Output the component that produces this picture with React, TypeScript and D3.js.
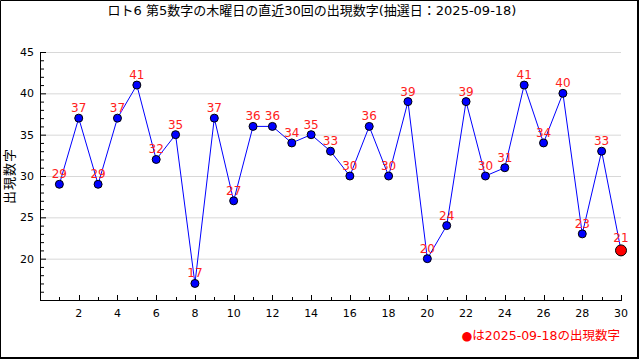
import { useEffect, useRef } from "react";
import * as d3 from "d3";

// 直近30回の第5数字
const draws: number[] = Array.from({ length: 30 }, (_, i) => i + 1);
const values: number[] = [
  29, 37, 29, 37, 41, 32, 35, 17, 37, 27,
  36, 36, 34, 35, 33, 30, 36, 30, 39, 20,
  24, 39, 30, 31, 41, 34, 40, 23, 33, 21,
];
const yTicks: number[] = [20, 25, 30, 35, 40, 45];
const xTicks: number[] = [2, 4, 6, 8, 10, 12, 14, 16, 18, 20, 22, 24, 26, 28, 30];
const title = "ロト6 第5数字の木曜日の直近30回の出現数字(抽選日：2025-09-18)";
const yLabel = "出現数字";
const legendText = "●は2025-09-18の出現数字";

const FONT = "'DejaVu Sans', 'Noto Sans CJK JP', sans-serif";

const App: React.FC = () => {
  const ref = useRef<HTMLDivElement>(null);

  useEffect(() => {
    const width = 640;
    const height = 360;
    const m = { left: 40, right: 19, top: 52, bottom: 60 };

    const svg = d3.select(ref.current)
      .selectAll("svg")
      .data([null])
      .join("svg")
      .attr("width", width)
      .attr("height", height)
      .style("display", "block");
    svg.selectAll("*").remove();

    svg.append("rect")
      .attr("width", width).attr("height", height).attr("fill", "#fff");

    // 外枠
    svg.append("path")
      .attr("d", "M0.5,359 V0.5 H638")
      .attr("fill", "none").attr("stroke", "#000");
    svg.append("path")
      .attr("d", "M638,0 V358 H0")
      .attr("fill", "none").attr("stroke", "#000").attr("stroke-width", 2);

    const x = d3.scaleLinear().domain([0, 30]).range([m.left, width - m.right]);
    const y = d3.scaleLinear().domain([15, 45]).range([height - m.bottom, m.top]);

    // グリッド
    svg.append("g").selectAll("line")
      .data(yTicks)
      .join("line")
      .attr("x1", x(0)).attr("x2", x(30))
      .attr("y1", d => y(d) + 0.5).attr("y2", d => y(d) + 0.5)
      .attr("stroke", "#d8d8d8");

    // Y軸
    const yAxis = svg.append("g");
    yAxis.append("line")
      .attr("x1", x(0) + 0.5).attr("x2", x(0) + 0.5)
      .attr("y1", y(45)).attr("y2", y(15))
      .attr("stroke", "#000");
    yAxis.selectAll("line.tick")
      .data(d3.range(16, 46))
      .join("line")
      .attr("class", "tick")
      .attr("x1", x(0)).attr("x2", d => x(0) + (d % 5 === 0 ? 6 : 4))
      .attr("y1", d => y(d) + 0.5).attr("y2", d => y(d) + 0.5)
      .attr("stroke", "#000");
    yAxis.selectAll("text")
      .data(yTicks)
      .join("text")
      .attr("x", x(0) - 6)
      .attr("y", d => y(d) + 4)
      .attr("text-anchor", "end")
      .attr("font-family", FONT).attr("font-size", 11)
      .text(d => d);

    // X軸
    const xAxis = svg.append("g");
    xAxis.append("line")
      .attr("x1", x(0)).attr("x2", x(30) + 1)
      .attr("y1", y(15) + 0.5).attr("y2", y(15) + 0.5)
      .attr("stroke", "#000");
    xAxis.selectAll("line.tick")
      .data(draws)
      .join("line")
      .attr("class", "tick")
      .attr("x1", d => Math.round(x(d)) + 0.5).attr("x2", d => Math.round(x(d)) + 0.5)
      .attr("y1", y(15)).attr("y2", d => y(15) - (d % 2 === 0 ? 5 : 3))
      .attr("stroke", "#000");
    xAxis.selectAll("text")
      .data(xTicks)
      .join("text")
      .attr("x", d => x(d))
      .attr("y", y(15) + 17)
      .attr("text-anchor", "middle")
      .attr("font-family", FONT).attr("font-size", 11)
      .text(d => d);

    // 折れ線
    const line = d3.line<number>()
      .x((_, i) => x(draws[i]))
      .y(d => y(d));
    svg.append("path")
      .datum(values)
      .attr("fill", "none")
      .attr("stroke", "#0000ff")
      .attr("stroke-width", 1)
      .attr("d", line);

    const last = values.length - 1;
    svg.append("g").selectAll("circle")
      .data(values)
      .join("circle")
      .attr("cx", (_, i) => x(draws[i]))
      .attr("cy", d => y(d))
      .attr("r", (_, i) => (i === last ? 5.5 : 4))
      .attr("fill", (_, i) => (i === last ? "#ff0000" : "#0000ff"))
      .attr("stroke", "#000")
      .attr("stroke-width", 1);

    svg.append("g").selectAll("text")
      .data(values)
      .join("text")
      .attr("x", (_, i) => x(draws[i]))
      .attr("y", (d, i) => y(d) - (i === last ? 8 : 6))
      .attr("text-anchor", "middle")
      .attr("font-family", FONT).attr("font-size", 12)
      .attr("fill", "#ff2020")
      .text(d => d);

    // タイトル・ラベル
    svg.append("text")
      .attr("x", 312).attr("y", 15)
      .attr("text-anchor", "middle")
      .attr("font-family", FONT).attr("font-size", 13)
      .text(title);

    svg.append("text")
      .attr("transform", `translate(14,${(y(15) + y(45)) / 2}) rotate(-90)`)
      .attr("text-anchor", "middle")
      .attr("font-family", FONT).attr("font-size", 13)
      .attr("letter-spacing", 1)
      .text(yLabel);

    svg.append("text")
      .attr("x", x(30) - 1).attr("y", 340)
      .attr("text-anchor", "end")
      .attr("font-family", FONT).attr("font-size", 12.5)
      .attr("fill", "#ff0000")
      .text(legendText);
  }, []);

  return <div ref={ref} style={{ position: "fixed", left: 0, top: 0 }} />;
};

export default App;
